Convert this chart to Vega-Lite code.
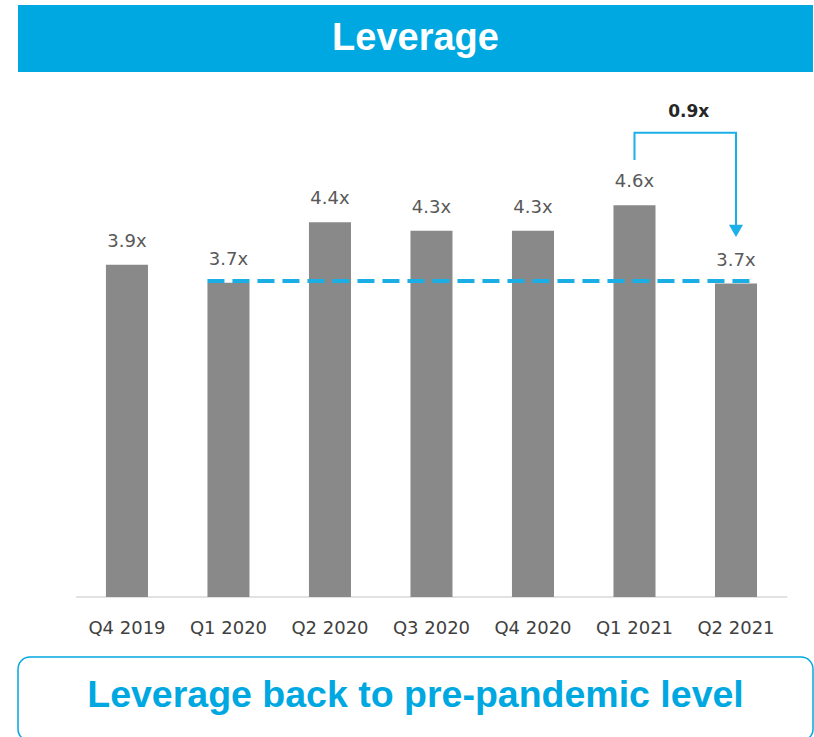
{
  "$schema": "https://vega.github.io/schema/vega-lite/v6.json",
  "padding": {"left": 17, "top": 5, "right": 2, "bottom": 0},
  "background": "white",
  "config": {"view": {"stroke": null}},
  "spacing": 14,
  "vconcat": [
    {
      "width": 795,
      "height": 67,
      "view": {"fill": "#00A8E1", "stroke": null},
      "data": {"values": [{"t": "Leverage"}]},
      "mark": {"type": "text", "font": "Liberation Sans", "fontWeight": "bold", "fontSize": 38, "color": "white", "baseline": "middle", "dy": 0},
      "encoding": {"text": {"field": "t"}}
    },
    {
      "spacing": 19,
      "vconcat": [
        {
          "width": 795,
          "height": 511,
          "layer": [
            {
              "data": {"values": [{"a": "Q4 2019", "b": "Q2 2021", "y": 0}]},
              "mark": {"type": "rule", "color": "#D9D9D9", "strokeWidth": 1.5},
              "encoding": {
                "x": {"field": "a", "type": "ordinal", "bandPosition": -0.71},
                "x2": {"field": "b", "bandPosition": 1.72},
                "y": {"field": "y", "type": "quantitative"}
              }
            },
            {
              "data": {"values": [
                {"q": "Q4 2019", "v": 3.9, "label": "3.9x"},
                {"q": "Q1 2020", "v": 3.69, "label": "3.7x"},
                {"q": "Q2 2020", "v": 4.4, "label": "4.4x"},
                {"q": "Q3 2020", "v": 4.3, "label": "4.3x"},
                {"q": "Q4 2020", "v": 4.3, "label": "4.3x"},
                {"q": "Q1 2021", "v": 4.6, "label": "4.6x"},
                {"q": "Q2 2021", "v": 3.68, "label": "3.7x"}
              ]},
              "layer": [
                {
                  "mark": {"type": "bar", "color": "#898989"},
                  "encoding": {
                    "x": {"field": "q", "type": "ordinal"},
                    "y": {"field": "v", "type": "quantitative"}
                  }
                },
                {
                  "mark": {"type": "text", "font": "DejaVu Sans", "fontSize": 18, "color": "#595959", "baseline": "bottom", "dy": -14},
                  "encoding": {
                    "x": {"field": "q", "type": "ordinal"},
                    "y": {"field": "v", "type": "quantitative"},
                    "text": {"field": "label"}
                  }
                }
              ]
            },
            {
              "data": {"values": [{"a": "Q1 2020", "b": "Q2 2021", "y": 3.71}]},
              "mark": {"type": "rule", "color": "#1AAEE5", "strokeWidth": 4, "strokeDash": [17, 8]},
              "encoding": {
                "x": {"field": "a", "type": "ordinal", "bandPosition": 0},
                "x2": {"field": "b", "bandPosition": 1},
                "y": {"field": "y", "type": "quantitative"}
              }
            },
            {
              "data": {"values": [
                {"q": "Q1 2021", "y": 5.13, "o": 1},
                {"q": "Q1 2021", "y": 5.45, "o": 2},
                {"q": "Q2 2021", "y": 5.45, "o": 3},
                {"q": "Q2 2021", "y": 4.35, "o": 4}
              ]},
              "mark": {"type": "line", "color": "#1BB0E7", "strokeWidth": 2},
              "encoding": {
                "x": {"field": "q", "type": "ordinal"},
                "y": {"field": "y", "type": "quantitative"},
                "order": {"field": "o", "type": "quantitative"}
              }
            },
            {
              "data": {"values": [{"q": "Q2 2021", "y": 4.3}]},
              "mark": {"type": "point", "shape": "triangle-down", "filled": true, "size": 200, "color": "#1BB0E7", "opacity": 1},
              "encoding": {
                "x": {"field": "q", "type": "ordinal"},
                "y": {"field": "y", "type": "quantitative"}
              }
            },
            {
              "data": {"values": [{"q": "Q1 2021", "y": 5.69, "t": "0.9x"}]},
              "mark": {"type": "text", "font": "DejaVu Sans", "fontWeight": "bold", "fontSize": 17, "color": "#262626", "baseline": "middle"},
              "encoding": {
                "x": {"field": "q", "type": "ordinal", "bandPosition": 1.79},
                "y": {"field": "y", "type": "quantitative"},
                "text": {"field": "t"}
              }
            }
          ],
          "encoding": {
            "x": {
              "scale": {
                "domain": ["Q4 2019", "Q1 2020", "Q2 2020", "Q3 2020", "Q4 2020", "Q1 2021", "Q2 2021"],
                "paddingInner": 0.586,
                "paddingOuter": 0.709,
                "align": 0.611
              },
              "axis": {
                "title": null,
                "labelAngle": 0,
                "ticks": false,
                "tickSize": 0,
                "domain": false,
                "labelPadding": 22,
                "labelFont": "DejaVu Sans",
                "labelFontSize": 18,
                "labelColor": "#404040"
              }
            },
            "y": {
              "scale": {"domain": [0, 6], "nice": false, "zero": true},
              "axis": null
            }
          }
        },
        {
          "width": 795,
          "height": 84,
          "view": {"stroke": "#00A8E1", "strokeWidth": 1.5, "cornerRadius": 12, "fill": "white"},
          "data": {"values": [{"t": "Leverage back to pre-pandemic level"}]},
          "mark": {"type": "text", "font": "Liberation Sans", "fontWeight": "bold", "fontSize": 37.5, "color": "#00A8E1", "baseline": "middle", "dy": -3},
          "encoding": {"text": {"field": "t"}}
        }
      ]
    }
  ]
}
